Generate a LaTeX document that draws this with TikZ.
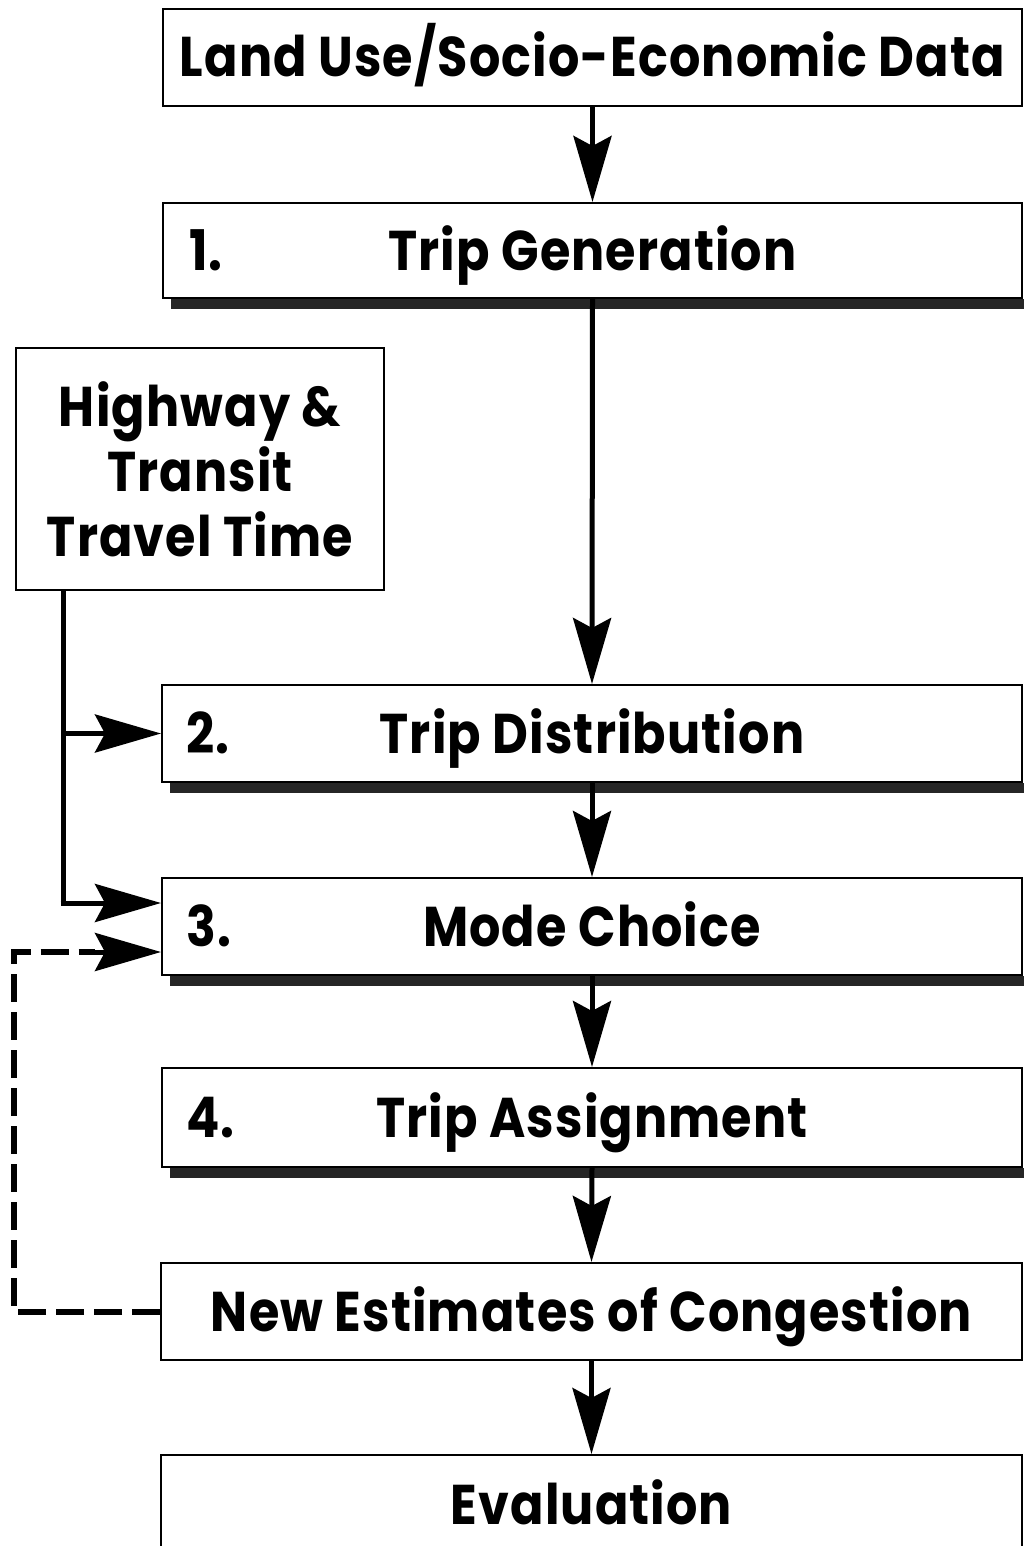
\documentclass[tikz,border=0pt]{standalone}
\usepackage{fontspec}
\setmainfont{Poppins}[FakeStretch=0.88, LetterSpace=2]
\usetikzlibrary{arrows.meta,calc}
\begin{document}
\begin{tikzpicture}[x=1pt,y=-1pt,
  bigfont/.style={font=\fontsize{56}{65}\selectfont\bfseries},
  box/.style={draw=black, line width=2pt, fill=white, inner sep=0pt, bigfont,
    text height=39pt, text depth=0pt, minimum width=860pt, minimum height=97pt},
  numlbl/.style={inner sep=0pt, bigfont, text height=39pt, text depth=0pt, anchor=west},
  hwbox/.style={draw=black, line width=2pt, fill=white, inner sep=0pt, bigfont,
    align=center, minimum width=368pt, minimum height=242pt},
  shadowband/.style={fill=black!85},
  tip/.style={-{Stealth[length=66pt, width=38pt, inset=10pt]}},
  conn/.style={line width=5pt, tip},
  plain/.style={line width=5pt},
  dashline/.style={line width=6pt, dash pattern=on 28pt off 10pt}
]
\useasboundingbox (0,0) rectangle (1023,1546);
\fill[white] (0,0) rectangle (1023,1546);

\node[box, minimum width=859pt] (b0) at (592.5,57.5) {Land Use/Socio-Economic Data};
\node[box, minimum width=859pt, minimum height=95pt] (b1) at (592.5,250.5) {Trip Generation};
\node[hwbox] (hw) at (200,469) {Highway \&\\Transit\\Travel Time};
\node[box] (b2) at (592,733.5) {Trip Distribution};
\node[box] (b3) at (592,926.5) {Mode Choice};
\node[box, minimum height=99pt] (b4) at (592,1117.5) {Trip Assignment};
\node[box, minimum width=861pt] (b5) at (591.5,1311.5) {New Estimates of Congestion};
\node[box, minimum width=861pt, minimum height=100pt] (b6) at (591.5,1505) {Evaluation};

\node[numlbl] (n1) at ([xshift=27pt]b1.west) {1.};
\node[numlbl] (n2) at ([xshift=25pt]b2.west) {2.};
\node[numlbl] (n3) at ([xshift=25pt]b3.west) {3.};
\node[numlbl] (n4) at ([xshift=25pt]b4.west) {4.};

\foreach \b in {b1,b2,b3,b4}{
  \fill[shadowband] ([xshift=9pt]\b.south west) rectangle ([xshift=3pt,yshift=-10pt]\b.south east);
}

\draw[conn] (b0.south) -- (b1.north);
\draw[conn] (b1.south) -- (b2.north);
\draw[conn] (b2.south) -- (b3.north);
\draw[conn] (b3.south) -- (b4.north);
\draw[conn] (b4.south) -- (b5.north);
\draw[conn] (b5.south) -- (b6.north);

\coordinate (hwout) at ([xshift=48pt]hw.south west);
\draw[plain] (hwout) |- ([xshift=-40pt,yshift=23.5pt]b3.west);
\draw[conn] (hwout |- b2.west) -- (b2.west);
\draw[conn] ([xshift=-2.5pt,yshift=23.5pt]b3.west -| hwout) -- ([yshift=23.5pt]b3.west);

\coordinate (fb) at (14,1311.5);
\draw[dashline] (b5.west) -- (fb) |- ([xshift=-66pt,yshift=-25.5pt]b3.west);
\draw[conn] ([xshift=-67pt,yshift=-25.5pt]b3.west) -- ([yshift=-25.5pt]b3.west);
\end{tikzpicture}
\end{document}
